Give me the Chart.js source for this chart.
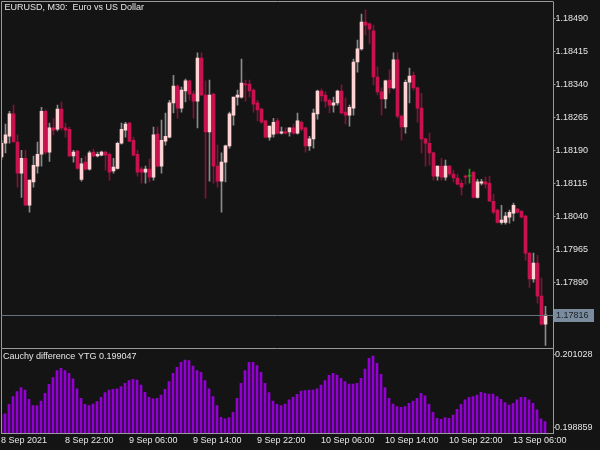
<!DOCTYPE html>
<html>
<head>
<meta charset="utf-8">
<script src="https://cdn.jsdelivr.net/npm/chart.js@4.4.1/dist/chart.umd.min.js"></script>
<style>
  body { margin: 0; background: #141414; }
  #wrap { width: 600px; height: 450px; background: #141414; }
  canvas { display: block; }
</style>
</head>
<body>
<div id="wrap">
  <canvas id="price" width="600" height="349"></canvas>
  <canvas id="osc" width="600" height="101"></canvas>
</div>
<script>
// EURUSD M30 candles, 8 Sep 14:00 -> 13 Sep 10:00
const open = [
  1.18176, 1.18207, 1.18223, 1.18274, 1.18210, 1.18139, 1.18173, 1.18066, 1.18119, 1.18155,
  1.18182, 1.18280, 1.18187, 1.18242, 1.18239, 1.18285, 1.18242, 1.18239, 1.18178, 1.18189,
  1.18125, 1.18164, 1.18148, 1.18187, 1.18178, 1.18180, 1.18187, 1.18182, 1.18144, 1.18150,
  1.18207, 1.18237, 1.18253, 1.18214, 1.18182, 1.18148, 1.18141, 1.18148, 1.18130, 1.18228,
  1.18155, 1.18212, 1.18221, 1.18299, 1.18337, 1.18287, 1.18326, 1.18349, 1.18319, 1.18303,
  1.18401, 1.18317, 1.18233, 1.18319, 1.18155, 1.18121, 1.18164, 1.18201, 1.18271, 1.18312,
  1.18312, 1.18342, 1.18342, 1.18328, 1.18299, 1.18285, 1.18258, 1.18221, 1.18228, 1.18258,
  1.18230, 1.18233, 1.18233, 1.18242, 1.18230, 1.18255, 1.18242, 1.18201, 1.18217, 1.18274,
  1.18326, 1.18317, 1.18305, 1.18294, 1.18299, 1.18326, 1.18278, 1.18271, 1.18287, 1.18392,
  1.18422, 1.18483, 1.18479, 1.18463, 1.18358, 1.18324, 1.18308, 1.18351, 1.18333, 1.18397,
  1.18269, 1.18244, 1.18346, 1.18362, 1.18333, 1.18287, 1.18217, 1.18207, 1.18185, 1.18132,
  1.18155, 1.18130, 1.18155, 1.18137, 1.18128, 1.18116, 1.18131, 1.18132, 1.18141, 1.18084,
  1.18116, 1.18119, 1.18116, 1.18075, 1.18055, 1.18027, 1.18027, 1.18039, 1.18048, 1.18057,
  1.18052, 1.18041, 1.17957, 1.17898, 1.17934, 1.17859, 1.17795
];
const high = [
  1.18214, 1.18251, 1.18280, 1.18294, 1.18226, 1.18191, 1.18191, 1.18123, 1.18178, 1.18210,
  1.18289, 1.18283, 1.18253, 1.18264, 1.18294, 1.18301, 1.18253, 1.18244, 1.18191, 1.18191,
  1.18173, 1.18178, 1.18189, 1.18194, 1.18187, 1.18189, 1.18189, 1.18185, 1.18173, 1.18210,
  1.18253, 1.18255, 1.18255, 1.18221, 1.18191, 1.18153, 1.18155, 1.18171, 1.18244, 1.18244,
  1.18260, 1.18276, 1.18305, 1.18362, 1.18340, 1.18335, 1.18353, 1.18351, 1.18326, 1.18413,
  1.18413, 1.18349, 1.18351, 1.18321, 1.18203, 1.18185, 1.18203, 1.18278, 1.18312, 1.18328,
  1.18399, 1.18351, 1.18351, 1.18331, 1.18305, 1.18287, 1.18260, 1.18246, 1.18264, 1.18264,
  1.18244, 1.18242, 1.18242, 1.18251, 1.18276, 1.18258, 1.18244, 1.18223, 1.18285, 1.18328,
  1.18331, 1.18324, 1.18308, 1.18312, 1.18328, 1.18340, 1.18310, 1.18294, 1.18399, 1.18442,
  1.18501, 1.18511, 1.18481, 1.18476, 1.18381, 1.18333, 1.18351, 1.18374, 1.18413, 1.18413,
  1.18271, 1.18351, 1.18378, 1.18369, 1.18335, 1.18321, 1.18219, 1.18230, 1.18187, 1.18155,
  1.18173, 1.18169, 1.18157, 1.18146, 1.18137, 1.18123, 1.18135, 1.18148, 1.18144, 1.18125,
  1.18125, 1.18130, 1.18132, 1.18091, 1.18057, 1.18066, 1.18050, 1.18055, 1.18071, 1.18059,
  1.18055, 1.18043, 1.17959, 1.17957, 1.17952, 1.17900, 1.17836
];
const low = [
  1.18169, 1.18185, 1.18207, 1.18210, 1.18107, 1.18084, 1.18066, 1.18050, 1.18107, 1.18139,
  1.18155, 1.18182, 1.18166, 1.18226, 1.18235, 1.18237, 1.18221, 1.18176, 1.18164, 1.18148,
  1.18121, 1.18146, 1.18146, 1.18176, 1.18176, 1.18178, 1.18146, 1.18123, 1.18139, 1.18148,
  1.18205, 1.18221, 1.18210, 1.18178, 1.18132, 1.18116, 1.18116, 1.18119, 1.18123, 1.18153,
  1.18139, 1.18203, 1.18219, 1.18276, 1.18264, 1.18278, 1.18301, 1.18305, 1.18264, 1.18242,
  1.18315, 1.18082, 1.18121, 1.18116, 1.18107, 1.18050, 1.18119, 1.18196, 1.18248, 1.18294,
  1.18310, 1.18303, 1.18312, 1.18278, 1.18258, 1.18253, 1.18219, 1.18214, 1.18221, 1.18228,
  1.18228, 1.18228, 1.18223, 1.18228, 1.18228, 1.18235, 1.18187, 1.18191, 1.18196, 1.18262,
  1.18303, 1.18289, 1.18276, 1.18278, 1.18294, 1.18274, 1.18251, 1.18246, 1.18271, 1.18369,
  1.18419, 1.18454, 1.18433, 1.18340, 1.18317, 1.18271, 1.18287, 1.18321, 1.18331, 1.18264,
  1.18214, 1.18230, 1.18299, 1.18328, 1.18255, 1.18185, 1.18155, 1.18157, 1.18123, 1.18123,
  1.18123, 1.18123, 1.18132, 1.18119, 1.18112, 1.18089, 1.18114, 1.18116, 1.18082, 1.18082,
  1.18112, 1.18105, 1.18075, 1.18046, 1.18025, 1.18023, 1.18023, 1.18025, 1.18030, 1.18048,
  1.18037, 1.17941, 1.17879, 1.17891, 1.17843, 1.17793, 1.17747
];
const close = [
  1.18207, 1.18226, 1.18274, 1.18210, 1.18139, 1.18173, 1.18066, 1.18123, 1.18157, 1.18182,
  1.18280, 1.18187, 1.18242, 1.18237, 1.18285, 1.18242, 1.18237, 1.18178, 1.18187, 1.18150,
  1.18160, 1.18148, 1.18185, 1.18178, 1.18182, 1.18187, 1.18180, 1.18141, 1.18153, 1.18207,
  1.18239, 1.18251, 1.18212, 1.18180, 1.18141, 1.18141, 1.18148, 1.18130, 1.18226, 1.18155,
  1.18214, 1.18223, 1.18299, 1.18337, 1.18287, 1.18328, 1.18349, 1.18319, 1.18303, 1.18401,
  1.18317, 1.18233, 1.18317, 1.18155, 1.18121, 1.18164, 1.18201, 1.18274, 1.18312, 1.18317,
  1.18344, 1.18340, 1.18326, 1.18296, 1.18283, 1.18255, 1.18221, 1.18246, 1.18255, 1.18230,
  1.18233, 1.18230, 1.18242, 1.18230, 1.18258, 1.18239, 1.18201, 1.18217, 1.18276, 1.18326,
  1.18315, 1.18303, 1.18294, 1.18299, 1.18326, 1.18276, 1.18271, 1.18289, 1.18392, 1.18422,
  1.18483, 1.18476, 1.18467, 1.18358, 1.18324, 1.18308, 1.18349, 1.18333, 1.18397, 1.18269,
  1.18244, 1.18346, 1.18360, 1.18333, 1.18287, 1.18217, 1.18207, 1.18185, 1.18132, 1.18155,
  1.18130, 1.18155, 1.18137, 1.18128, 1.18114, 1.18107, 1.18130, 1.18132, 1.18084, 1.18119,
  1.18119, 1.18114, 1.18075, 1.18050, 1.18027, 1.18032, 1.18041, 1.18050, 1.18066, 1.18050,
  1.18039, 1.17957, 1.17898, 1.17934, 1.17859, 1.17795, 1.17816
];

// Cauchy difference YTG histogram
const cauchy = [
  0.199250, 0.199276, 0.199563, 0.199791, 0.199939, 0.200058, 0.199989, 0.199712, 0.199524, 0.199524,
  0.199662, 0.199890, 0.200157, 0.200355, 0.200563, 0.200632, 0.200563, 0.200484, 0.200316, 0.200019,
  0.199741, 0.199563, 0.199524, 0.199573, 0.199642, 0.199771, 0.199910, 0.199989, 0.200009, 0.200019,
  0.200088, 0.200187, 0.200266, 0.200306, 0.200286, 0.200137, 0.199920, 0.199771, 0.199722, 0.199741,
  0.199840, 0.200009, 0.200236, 0.200484, 0.200662, 0.200811, 0.200880, 0.200860, 0.200702, 0.200563,
  0.200514, 0.200266, 0.200019, 0.199791, 0.199524, 0.199177, 0.199128, 0.199167, 0.199326, 0.199741,
  0.200187, 0.200563, 0.200811, 0.200811, 0.200712, 0.200514, 0.200187, 0.199910, 0.199662, 0.199563,
  0.199524, 0.199573, 0.199692, 0.199771, 0.199860, 0.199959, 0.199969, 0.199989, 0.199989, 0.200019,
  0.200137, 0.200266, 0.200425, 0.200484, 0.200434, 0.200335, 0.200236, 0.200167, 0.200167, 0.200187,
  0.200335, 0.200613, 0.200929, 0.200999, 0.200781, 0.200454, 0.200058, 0.199741, 0.199573, 0.199494,
  0.199474, 0.199494, 0.199593, 0.199662, 0.199741, 0.199890, 0.199811, 0.199563, 0.199326, 0.199147,
  0.199118, 0.199167, 0.199147, 0.199246, 0.199415, 0.199563, 0.199692, 0.199771, 0.199791, 0.199840,
  0.199920, 0.199890, 0.199870, 0.199870, 0.199791, 0.199712, 0.199613, 0.199543, 0.199593, 0.199692,
  0.199771, 0.199771, 0.199692, 0.199593, 0.199395, 0.199128, 0.199047
];

const priceTicks = [1.18490, 1.18415, 1.18340, 1.18265, 1.18190, 1.18115, 1.18040, 1.17965, 1.17890];
const oscTicks = [0.201028, 0.198859];
const timeLabels = ["8 Sep 2021", "8 Sep 22:00", "9 Sep 06:00", "9 Sep 14:00", "9 Sep 22:00",
  "10 Sep 06:00", "10 Sep 14:00", "10 Sep 22:00", "13 Sep 06:00"];
const title = "EURUSD, M30:  Euro vs US Dollar";
const oscTitle = "Cauchy difference YTG 0.199047";

const bg = "#141414";
const frame = "#9a9a9a";
const textColor = "#e6e6e6";
const bull = "#ffd3d3", bear = "#c8124f", doji = "#1ea01e";
const bullWick = "#8a8a8a", bearWick = "#7e1438";

Chart.defaults.font.family = '"Liberation Sans", Arial, sans-serif';
Chart.defaults.font.size = 9;
Chart.defaults.color = textColor;

// two empty slots on the right (chart shift)
const slots = Array.from({ length: close.length + 2 }, (_, i) => i);

const bodyColors = open.map((o, i) => close[i] > o ? bull : close[i] < o ? bear : doji);
const wickColors = open.map((o, i) => close[i] > o ? bullWick : close[i] < o ? bearWick : doji);

// no extra room for the outer tick labels
const noPad = (s) => {
  s.paddingTop = 0; s.paddingBottom = 0;
  s.paddingLeft = 0; s.paddingRight = 0;
};

const framePlugin = {
  id: "frame",
  afterDatasetsDraw(chart, args, opts) {
    const { ctx, chartArea: a } = chart;
    ctx.save();
    ctx.strokeStyle = frame;
    ctx.lineWidth = 1;
    ctx.beginPath();
    const x0 = Math.floor(a.left) + 0.5;
    ctx.moveTo(x0, opts.top ? a.top - 0.5 : a.top);
    ctx.lineTo(x0, a.bottom + (opts.bottom ? 0.5 : 0));
    if (opts.top) {
      ctx.moveTo(x0, a.top - 0.5);
      ctx.lineTo(Math.floor(a.right) + 0.5, a.top - 0.5);
    }
    if (opts.bottom) {
      ctx.moveTo(x0, a.bottom + 0.5);
      ctx.lineTo(Math.floor(a.right) + 0.5, a.bottom + 0.5);
    }
    ctx.stroke();
    ctx.fillStyle = textColor;
    ctx.font = '9px "Liberation Sans", Arial, sans-serif';
    ctx.textBaseline = "middle";
    ctx.fillText(opts.text, a.left + opts.dx, a.top + opts.dy);
    ctx.restore();
  }
};

const bidPlugin = {
  id: "bid",
  afterDraw(chart) {
    const { ctx, chartArea: a, scales } = chart;
    const last = close[close.length - 1];
    const y = Math.round(scales.y.getPixelForValue(last)) + 0.5;
    ctx.save();
    ctx.strokeStyle = "#66737f";
    ctx.lineWidth = 1;
    ctx.beginPath();
    ctx.moveTo(a.left, y);
    ctx.lineTo(a.right, y);
    ctx.stroke();
    ctx.fillStyle = "#7b8c9e";
    ctx.fillRect(Math.floor(a.right) + 1, y - 6.5, 40, 13);
    ctx.fillStyle = "#1a1f24";
    ctx.font = '9px "Liberation Sans", Arial, sans-serif';
    ctx.textBaseline = "middle";
    ctx.fillText(last.toFixed(5), Math.floor(a.right) + 3, y);
    ctx.restore();
  }
};

new Chart(document.getElementById("price"), {
  type: "bar",
  data: {
    labels: slots,
    datasets: [
      {
        label: "wick",
        data: low.map((l, i) => [l, high[i]]),
        backgroundColor: wickColors,
        barThickness: 1,
        grouped: false,
        order: 2
      },
      {
        label: "body",
        data: open.map((o, i) => [o, close[i]]),
        backgroundColor: bodyColors,
        barThickness: 3,
        minBarLength: 1,
        grouped: false,
        order: 1
      }
    ]
  },
  options: {
    responsive: false,
    animation: false,
    layout: { padding: { left: 1.5, top: 2, bottom: 1, right: 0 } },
    plugins: {
      legend: { display: false },
      tooltip: { enabled: false },
      frame: { text: title, dx: 3, dy: 6, top: true, bottom: true }
    },
    scales: {
      x: { display: false, offset: false, grid: { offset: false } },
      y: {
        position: "right",
        min: 1.177409,
        max: 1.185287,
        afterBuildTicks: (s) => { s.ticks = priceTicks.map((v) => ({ value: v })); },
        afterFit: (s) => { s.width = 46.5; noPad(s); },
        ticks: { padding: 0, color: textColor, callback: (v) => Number(v).toFixed(5) },
        grid: { drawOnChartArea: false, drawTicks: true, tickLength: 2, color: frame },
        border: { display: true, color: frame }
      }
    }
  },
  plugins: [framePlugin, bidPlugin]
});

new Chart(document.getElementById("osc"), {
  type: "bar",
  data: {
    labels: slots,
    datasets: [{
      label: "Cauchy difference YTG",
      data: cauchy,
      backgroundColor: "#9400d3",
      barThickness: 2
    }]
  },
  options: {
    responsive: false,
    animation: false,
    layout: { padding: { left: 1, top: 0, bottom: 0, right: 0 } },
    plugins: {
      legend: { display: false },
      tooltip: { enabled: false },
      frame: { text: oscTitle, dx: 2, dy: 8, top: false, bottom: false }
    },
    scales: {
      x: {
        offset: false,
        grid: { display: false, drawTicks: false, offset: false },
        border: { display: true, color: frame },
        afterFit: (s) => { s.height = 17; noPad(s); },
        ticks: {
          autoSkip: false,
          maxRotation: 0,
          minRotation: 0,
          align: "start",
          padding: 2,
          color: textColor,
          callback: (v, i) => (i % 16 === 0 && timeLabels[i / 16]) ? timeLabels[i / 16] : null
        }
      },
      y: {
        position: "right",
        min: 0.198710,
        max: 0.201206,
        afterBuildTicks: (s) => { s.ticks = oscTicks.map((v) => ({ value: v })); },
        afterFit: (s) => { s.width = 47; noPad(s); },
        ticks: { padding: 0, color: textColor, callback: (v) => Number(v).toFixed(6) },
        grid: { drawOnChartArea: false, drawTicks: true, tickLength: 2, color: frame },
        border: { display: true, color: frame }
      }
    }
  },
  plugins: [framePlugin]
});
</script>
</body>
</html>
